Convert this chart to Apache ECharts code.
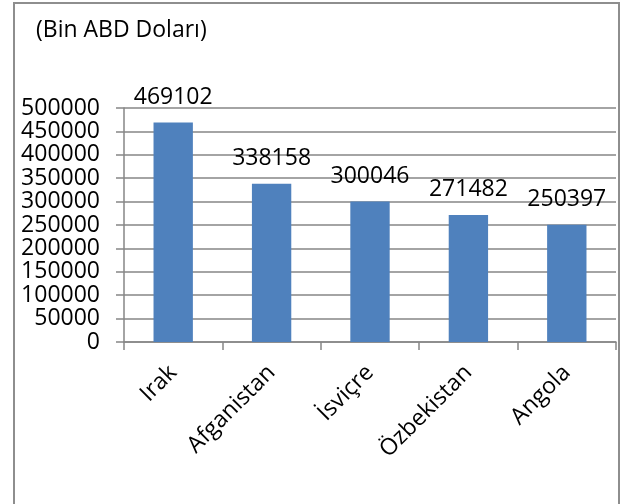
<!DOCTYPE html>
<html>
<head>
<meta charset="utf-8">
<script src="https://cdn.jsdelivr.net/npm/echarts@6/dist/echarts.min.js"></script>
<style>
html,body{margin:0;padding:0;background:#fff;}
#chart{width:620px;height:504px;}
</style>
</head>
<body>
<div id="chart"></div>
<script>
const categories = ["Irak", "Afganistan", "İsviçre", "Özbekistan", "Angola"];
const values = [469102, 338158, 300046, 271482, 250397];
const yMin = 0, yMax = 500000, yStep = 50000;
const titleText = "(Bin ABD Doları)";

const FONT = "'Open Sans', sans-serif";
const chart = echarts.init(document.getElementById('chart'), null, {renderer: 'canvas'});
chart.setOption({
  animation: false,
  backgroundColor: '#fff',
  title: {
    text: titleText,
    left: 31, top: 14,
    textStyle: {fontFamily: FONT, fontSize: 23, fontWeight: 'normal', color: '#000'}
  },
  graphic: [{
    type: 'rect',
    shape: {x: 14, y: 3, width: 605, height: 560},
    style: {fill: 'none', stroke: '#8e8e8e', lineWidth: 2},
    silent: true
  }],
  grid: {left: 124, right: 4, top: 108, bottom: 162, containLabel: false},
  xAxis: {
    type: 'category',
    data: categories,
    axisLine: {lineStyle: {color: '#868686', width: 1.5}},
    axisTick: {show: true, length: 8, alignWithLabel: false, lineStyle: {color: '#868686', width: 1.5}},
    axisLabel: {rotate: 45, margin: 27, fontFamily: FONT, fontSize: 23, color: '#000', interval: 0}
  },
  yAxis: {
    type: 'value',
    min: yMin, max: yMax, interval: yStep,
    axisLine: {show: true, lineStyle: {color: '#868686', width: 1.5}},
    axisTick: {show: true, length: 8, lineStyle: {color: '#868686', width: 1.5}},
    splitLine: {show: true, lineStyle: {color: '#868686', width: 1.5}},
    axisLabel: {margin: 24, fontFamily: FONT, fontSize: 23, color: '#000', formatter: function (v) { return String(v); }}
  },
  series: [{
    type: 'bar',
    data: values,
    barWidth: '40%',
    itemStyle: {color: '#4F81BD'},
    label: {show: true, position: 'top', distance: 14, fontFamily: FONT, fontSize: 23, color: '#000'}
  }]
});
</script>
</body>
</html>
